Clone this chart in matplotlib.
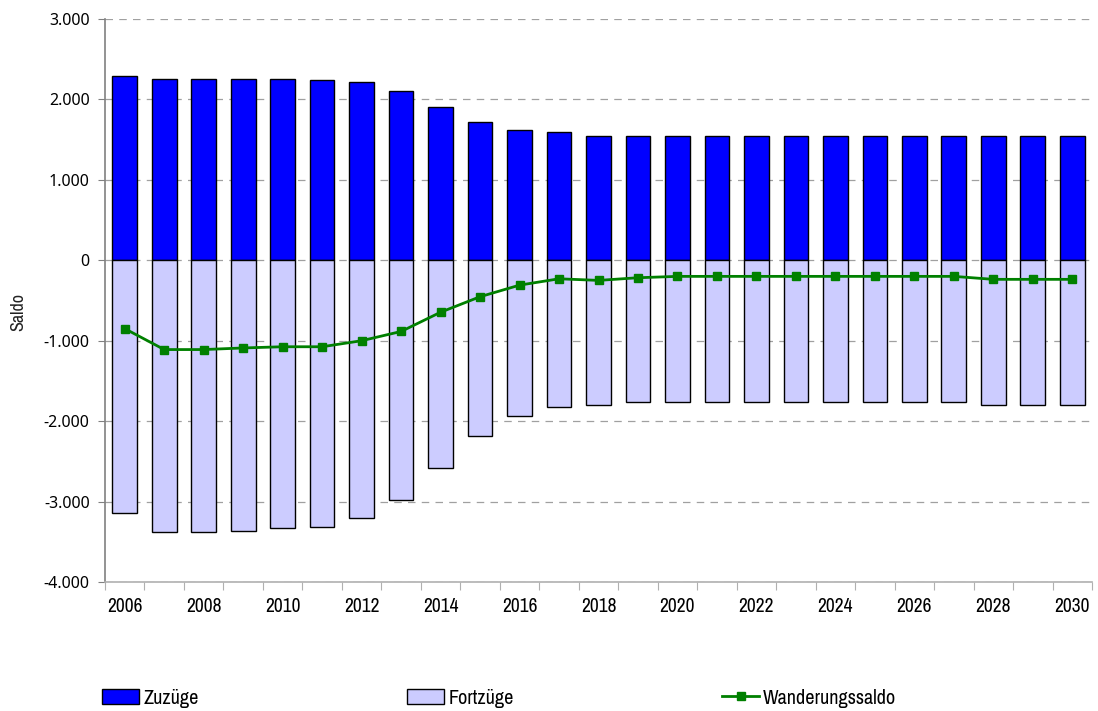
import numpy as np
import matplotlib
matplotlib.use("Agg")
import matplotlib.pyplot as plt
from matplotlib.ticker import FuncFormatter, MultipleLocator
from matplotlib.patches import Patch
from matplotlib.lines import Line2D

# Data
years = list(range(2006, 2031))
zuzuege = [2290, 2260, 2260, 2260, 2260, 2245, 2215, 2105, 1905, 1715, 1620, 1590,
           1540, 1540, 1540, 1540, 1540, 1540, 1540, 1540, 1540, 1540, 1540, 1540, 1540]
fortzuege = [-3140, -3380, -3380, -3360, -3330, -3315, -3200, -2985, -2580, -2180, -1940, -1830,
             -1800, -1760, -1760, -1760, -1760, -1760, -1760, -1760, -1760, -1760, -1795, -1795, -1795]
saldo = [-850, -1110, -1110, -1090, -1075, -1075, -1000, -885, -646, -453, -309, -230,
         -250, -217, -200, -200, -200, -200, -200, -200, -200, -200, -237, -237, -237]

narrow = ['Archivo Narrow', 'DejaVu Sans']

fig = plt.figure(figsize=(10.98, 7.11), dpi=100)
ax = fig.add_axes([105 / 1098, 1 - 582 / 711, 987 / 1098, (582 - 19) / 711])

x = np.arange(len(years))
ax.bar(x, zuzuege, width=0.625, color='#0000ff', edgecolor='black', linewidth=1.0, zorder=3)
ax.bar(x, fortzuege, width=0.625, color='#ccccff', edgecolor='black', linewidth=1.0, zorder=3)
ax.plot(x, saldo, color='#008000', linewidth=2, marker='s', markersize=6, zorder=4)

ax.set_xlim(-0.5, len(years) - 0.5)
ax.set_ylim(-4000, 3000)

# y axis
ax.yaxis.set_major_locator(MultipleLocator(1000))
ax.yaxis.set_major_formatter(FuncFormatter(lambda v, p: f"{int(v):,}".replace(",", ".")))
ax.grid(axis='y', color='#a0a0a0', linestyle=(0, (6, 5)), linewidth=0.9, zorder=0)
ax.tick_params(axis='y', direction='out', length=5, color='#808080', labelsize=11.5, pad=6)
for lab in ax.get_yticklabels():
    lab.set_family('Noto Sans')

# x axis: ticks between categories, labels every second year
ax.set_xticks(np.arange(-0.5, len(years), 1.0))
ax.set_xticklabels([])
ax.set_xticks(x[::2], minor=True)
ax.set_xticklabels([str(y) for y in years[::2]], minor=True, family=narrow, fontsize=14)
ax.tick_params(axis='x', which='major', direction='out', length=6, color='#b0b0b0')
ax.tick_params(axis='x', which='minor', length=0, pad=11)

for s in ['top', 'right']:
    ax.spines[s].set_visible(False)
ax.spines['left'].set_color('#808080')
ax.spines['bottom'].set_color('#b0b0b0')
ax.spines['left'].set_linewidth(1.2)
ax.spines['bottom'].set_linewidth(1.2)

fig.text(18 / 1098, 1 - 312 / 711, 'Saldo', rotation=90, ha='center', va='center',
         fontsize=13, fontweight='bold', family=narrow, color='#222222')

# legend: three separate entries along the bottom
handles = [
    Patch(facecolor='#0000ff', edgecolor='black', label='Zuzüge'),
    Patch(facecolor='#ccccff', edgecolor='black', label='Fortzüge'),
    Line2D([0], [0], color='#008000', linewidth=2, marker='s', markersize=6, label='Wanderungssaldo'),
]
xpos = [102, 407, 722]
for h, xp in zip(handles, xpos):
    fig.legend(handles=[h], loc='center left', bbox_to_anchor=(xp / 1098, 1 - 698 / 711),
               frameon=False, handlelength=1.85, handleheight=0.7, handletextpad=0.2,
               borderpad=0, borderaxespad=0, prop={'family': narrow, 'size': 14.5})

fig.savefig('out.png', dpi=100, facecolor='white')
